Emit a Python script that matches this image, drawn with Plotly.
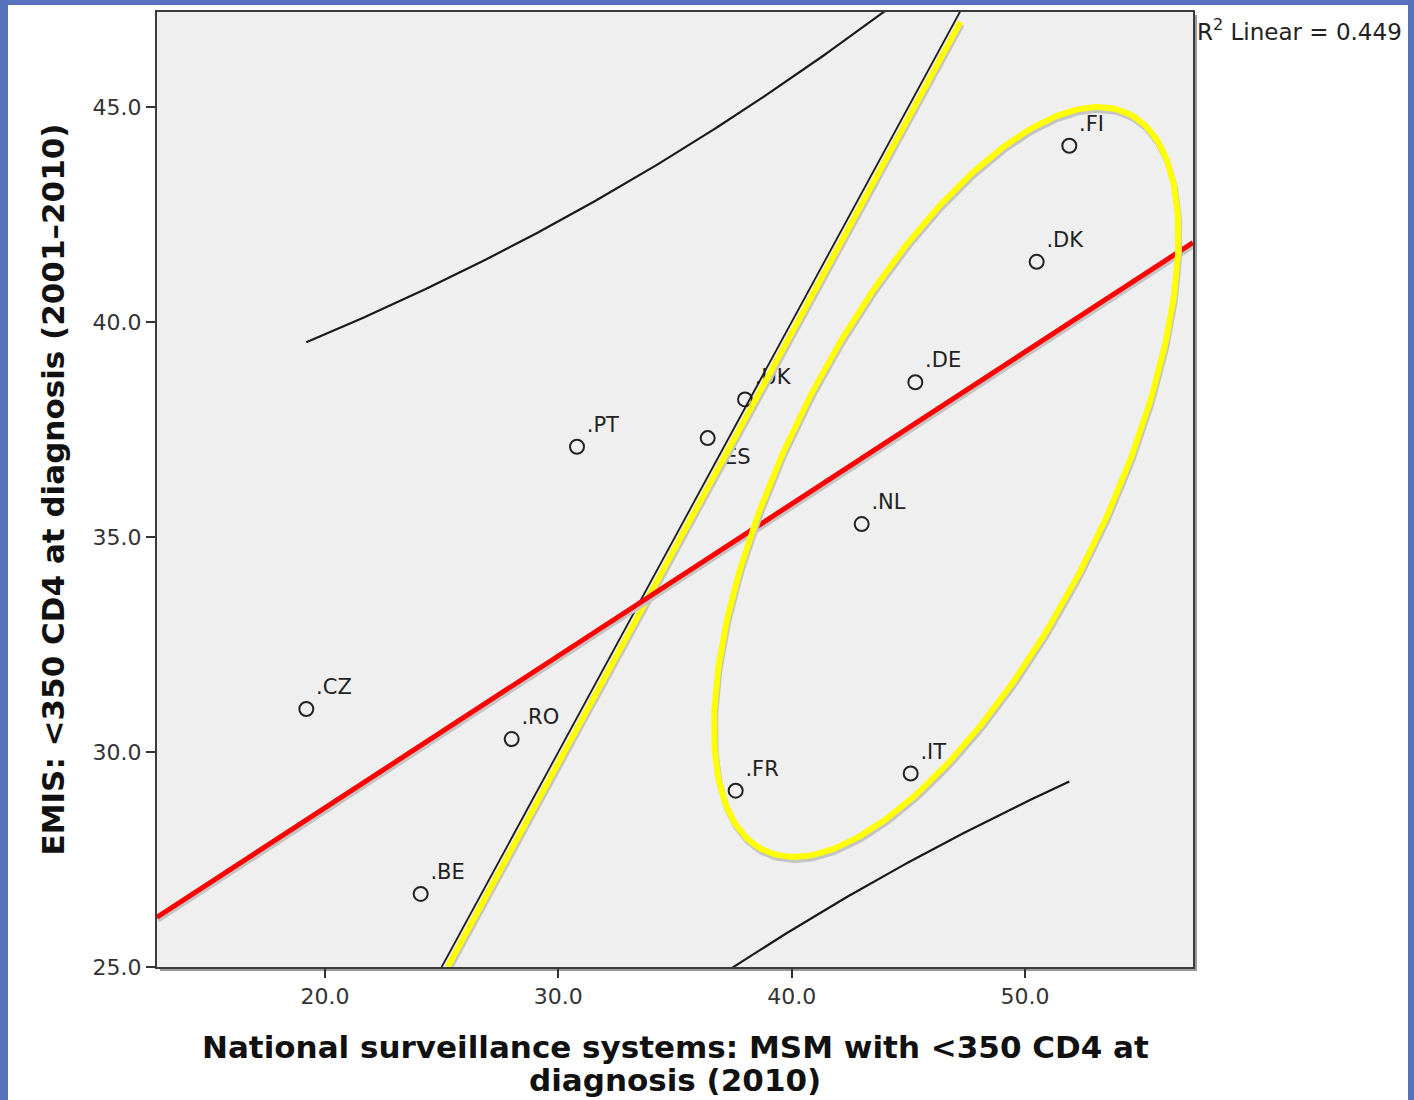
import numpy as np
import plotly.graph_objects as go

# Country-level data: % MSM with <350 CD4 at diagnosis
countries = ["FI", "DK", "DE", "UK", "ES", "PT", "NL", "CZ", "RO", "FR", "IT", "BE"]
national_2010 = [51.9, 50.5, 45.3, 38.0, 36.4, 30.8, 43.0, 19.2, 28.0, 37.6, 45.1, 24.1]
emis_2001_2010 = [44.1, 41.4, 38.6, 38.2, 37.3, 37.1, 35.3, 31.0, 30.3, 29.1, 29.5, 26.7]
label_pos = ["top right"] * 4 + ["bottom right"] + ["top right"] * 7

x_ticks = [20.0, 30.0, 40.0, 50.0]
y_ticks = [25.0, 30.0, 35.0, 40.0, 45.0]
r2_text = "0.449"
x_title_lines = ["National surveillance systems: MSM with <350 CD4 at", "diagnosis (2010)"]
y_title = "EMIS: <350 CD4 at diagnosis (2001\u20132010)"

X_RANGE = [12.8, 57.2]
Y_RANGE = [25.0, 47.21]

# figure geometry
W, H = 1414, 1100
ML, MR, MT, MB = 157, 221, 12, 133
PW, PH = W - ML - MR, H - MT - MB
XU = (X_RANGE[1] - X_RANGE[0]) / PW   # data units per pixel
YU = (Y_RANGE[1] - Y_RANGE[0]) / PH

x = np.array(national_2010)
y = np.array(emis_2001_2010)
n = len(x)

# least squares fit with 95% prediction interval
slope, intercept = np.polyfit(x, y, 1)
resid = y - (slope * x + intercept)
s = np.sqrt(np.sum(resid ** 2) / (n - 2))
sxx = np.sum((x - x.mean()) ** 2)
t975 = 2.228  # t(0.975, df=10)

xf = np.linspace(X_RANGE[0], X_RANGE[1], 200)
yf = slope * xf + intercept
xp = np.linspace(x.min(), x.max(), 300)
half = t975 * s * np.sqrt(1 + 1 / n + (xp - x.mean()) ** 2 / sxx)
yp = slope * xp + intercept

# shadow offset (down / slightly right)
SDX, SDY = 1 * XU, -3 * YU

fig = go.Figure()

# point markers and labels
fig.add_trace(go.Scatter(
    x=x, y=y, mode="markers+text",
    text=["." + c for c in countries], textposition=label_pos,
    textfont=dict(family="DejaVu Sans", size=21, color="#222222"),
    marker=dict(symbol="circle-open", size=14, color="#222222", line=dict(width=2)),
    hoverinfo="skip", showlegend=False, cliponaxis=False,
))

# prediction interval curves
for yy in (yp + half, yp - half):
    fig.add_trace(go.Scatter(x=xp, y=yy, mode="lines",
                             line=dict(color="#1a1a1a", width=2.2), showlegend=False))

# line of equality y = x
eq = np.linspace(X_RANGE[0], X_RANGE[1], 2)
fig.add_trace(go.Scatter(x=eq, y=eq, mode="lines",
                         line=dict(color="#1a1a1a", width=1.8), showlegend=False))

# highlighted parallel to line of equality
hy = np.array([Y_RANGE[0], 46.98])
hx = hy + 6 * XU
fig.add_trace(go.Scatter(x=hx + SDX, y=hy + SDY, mode="lines",
                         line=dict(color="#c4c4c4", width=6), showlegend=False))
fig.add_trace(go.Scatter(x=hx, y=hy, mode="lines",
                         line=dict(color="#ffff00", width=6), showlegend=False))

# regression line
fig.add_trace(go.Scatter(x=xf + SDX, y=yf + SDY, mode="lines",
                         line=dict(color="#c4c4c4", width=5), showlegend=False))
fig.add_trace(go.Scatter(x=xf, y=yf, mode="lines",
                         line=dict(color="#ff0000", width=5), showlegend=False))

# highlight ellipse round the high-surveillance countries (axes in pixels)
ec_x, ec_y = 46.62, 36.28
ea, eb, eth = 411, 160, np.radians(63.6)
tt = np.linspace(0, 2 * np.pi, 361)
epx = ea * np.cos(tt) * np.cos(eth) - eb * np.sin(tt) * np.sin(eth)
epy = ea * np.cos(tt) * np.sin(eth) + eb * np.sin(tt) * np.cos(eth)
ex = ec_x + epx * XU
ey = ec_y + epy * YU
fig.add_trace(go.Scatter(x=ex + SDX, y=ey + SDY, mode="lines",
                         line=dict(color="#c4c4c4", width=6), showlegend=False))
fig.add_trace(go.Scatter(x=ex, y=ey, mode="lines",
                         line=dict(color="#ffff00", width=6), showlegend=False))


def px_x(p):
    return (p - ML) / PW


def px_y(p):
    return (H - MB - p) / PH


# blue frame around the page and shadow of the plot frame
blue = "#5672bd"
shapes = [
    dict(type="rect", xref="paper", yref="paper", x0=px_x(0), x1=px_x(8),
         y0=px_y(H), y1=px_y(0), fillcolor=blue, line_width=0, layer="above"),
    dict(type="rect", xref="paper", yref="paper", x0=px_x(0), x1=px_x(W),
         y0=px_y(5), y1=px_y(0), fillcolor=blue, line_width=0, layer="above"),
    dict(type="rect", xref="paper", yref="paper", x0=px_x(1408), x1=px_x(W),
         y0=px_y(H), y1=px_y(0), fillcolor=blue, line_width=0, layer="above"),
    dict(type="rect", xref="paper", yref="paper", x0=px_x(W - MR + 1), x1=px_x(W - MR + 4),
         y0=px_y(H - MB + 3), y1=px_y(MT + 3), fillcolor="#9a9a9a", line_width=0, layer="below"),
    dict(type="rect", xref="paper", yref="paper", x0=px_x(ML + 3), x1=px_x(W - MR + 4),
         y0=px_y(H - MB + 4), y1=px_y(H - MB + 1), fillcolor="#9a9a9a", line_width=0, layer="below"),
]

fig.add_annotation(xref="paper", yref="paper", x=px_x(1195), y=px_y(30),
                   xanchor="left", yanchor="middle", showarrow=False,
                   text="R<sup>2</sup> Linear = " + r2_text,
                   font=dict(family="DejaVu Sans", size=23, color="#222222"))

title_font = dict(family="DejaVu Sans", size=31, color="#111111", weight="bold")

# axis titles
for line, py in zip(x_title_lines, (1047, 1080)):
    fig.add_annotation(xref="paper", yref="paper", x=0.5, y=px_y(py),
                       xanchor="center", yanchor="middle", showarrow=False,
                       text=line, font=title_font)
fig.add_annotation(xref="paper", yref="paper", x=px_x(52), y=0.5,
                   xanchor="center", yanchor="middle", showarrow=False,
                   textangle=-90, text=y_title, font=title_font)

axis_common = dict(
    showgrid=False, zeroline=False, ticks="outside", ticklen=9, tickwidth=2,
    tickcolor="#333333", showline=True, linecolor="#3a3a3a", linewidth=2, mirror=True,
    tickfont=dict(family="DejaVu Sans", size=22, color="#333333"), tickformat=".1f",
    automargin=False,
)

fig.update_layout(
    width=W, height=H,
    margin=dict(l=ML, r=MR, t=MT, b=MB),
    paper_bgcolor="white", plot_bgcolor="#efefef",
    shapes=shapes, showlegend=False,
    xaxis=dict(range=X_RANGE, tickvals=x_ticks, **axis_common),
    yaxis=dict(range=Y_RANGE, tickvals=y_ticks, **axis_common),
)

fig.write_html("out.html")
